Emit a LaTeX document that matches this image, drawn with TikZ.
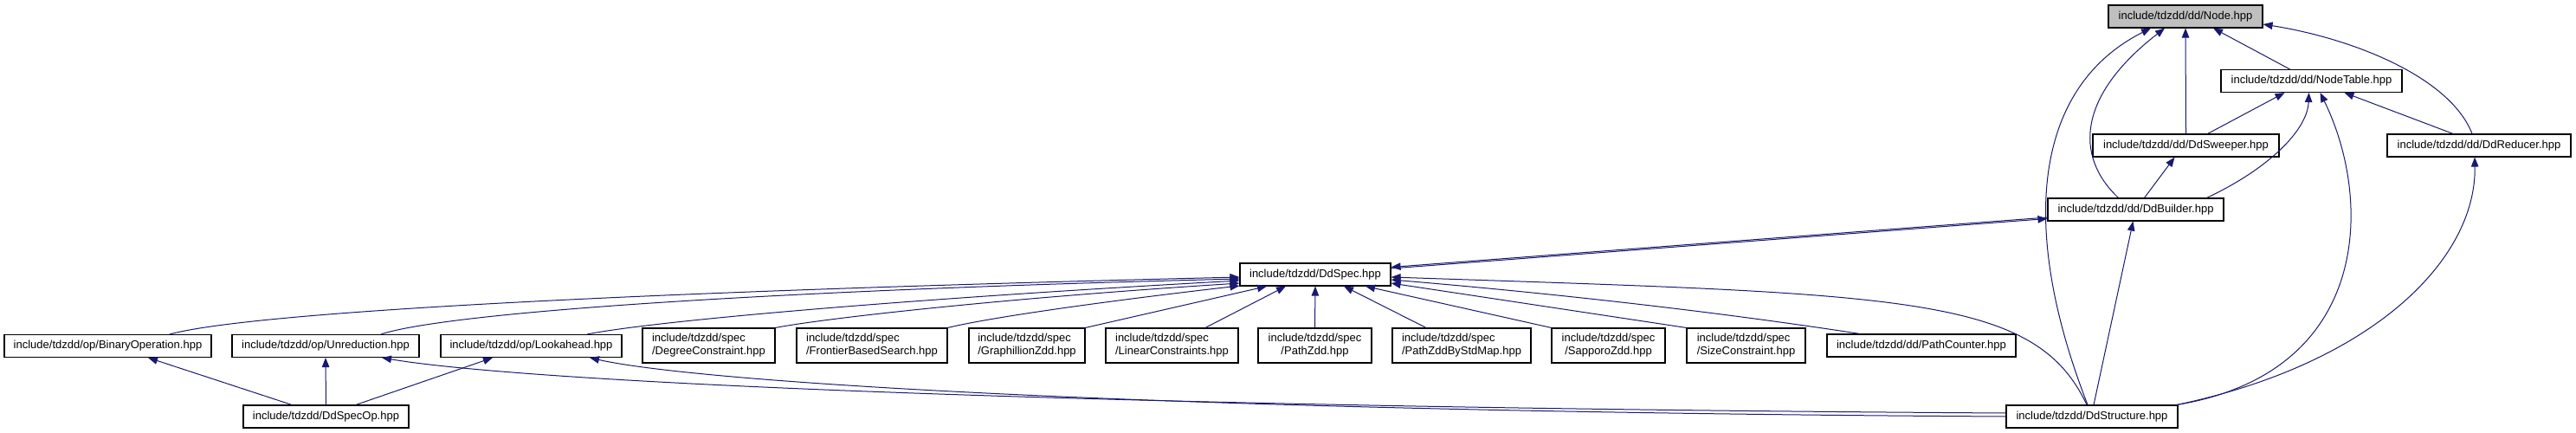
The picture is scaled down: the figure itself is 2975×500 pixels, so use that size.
\documentclass[tikz,border=0pt]{standalone}
\usepackage{fontspec}
\setmainfont{Liberation Sans}
\usepackage{tikz}
\usetikzlibrary{arrows.meta,positioning}
\definecolor{incblue}{RGB}{25,25,112}
\definecolor{focusgray}{RGB}{191,191,191}

\begin{document}
\begin{tikzpicture}[x=1pt,y=-1pt,
  every node/.style={font=\fontsize{13}{15}\selectfont},
  hbox/.style={draw=black,fill=white,line width=1.1pt,inner sep=0pt,minimum height=26pt},
  hbox2/.style={hbox,minimum height=40pt,align=left},
  inc/.style={draw=incblue,line width=1pt,-{Triangle[length=11pt,width=8.5pt]}}]
\useasboundingbox (0,0) rectangle (2975,500);
% top part
\node[hbox,fill=focusgray,minimum width=178pt] (node) at (2524,19) {include/tdzdd/dd/Node.hpp};
\node[hbox,minimum width=209pt] (ntab) at (2669.5,93.5) {include/tdzdd/dd/NodeTable.hpp};
\node[hbox,minimum width=215pt] (swp) at (2524.5,168) {include/tdzdd/dd/DdSweeper.hpp};
\node[hbox,minimum width=212pt] (red) at (2863,168) {include/tdzdd/dd/DdReducer.hpp};
\node[hbox,minimum width=203pt] (bld) at (2466.5,242) {include/tdzdd/dd/DdBuilder.hpp};
\node[hbox,minimum width=174pt] (spec) at (1519,317) {include/tdzdd/DdSpec.hpp};
% row of specs
\node[hbox,minimum width=239pt] (bin) at (124.5,399.5) {include/tdzdd/op/BinaryOperation.hpp};
\node[hbox,minimum width=216pt] (unr) at (376,399.5) {include/tdzdd/op/Unreduction.hpp};
\node[hbox,minimum width=209pt] (look) at (613.5,399.5) {include/tdzdd/op/Lookahead.hpp};
\node[hbox2,minimum width=153pt] (deg) at (818.5,399) {include/tdzdd/spec\\/DegreeConstraint.hpp};
\node[hbox2,minimum width=174pt] (front) at (1007,399) {include/tdzdd/spec\\/FrontierBasedSearch.hpp};
\node[hbox2,minimum width=134pt] (graph) at (1186,399) {include/tdzdd/spec\\/GraphillionZdd.hpp};
\node[hbox2,minimum width=153pt] (lin) at (1353.5,399) {include/tdzdd/spec\\/LinearConstraints.hpp};
\node[hbox2,align=center,minimum width=131pt] (pz) at (1518.5,399) {include/tdzdd/spec\\/PathZdd.hpp};
\node[hbox2,minimum width=160pt] (pzs) at (1688,399) {include/tdzdd/spec\\/PathZddByStdMap.hpp};
\node[hbox2,align=center,minimum width=131pt] (sap) at (1857.5,399) {include/tdzdd/spec\\/SapporoZdd.hpp};
\node[hbox2,minimum width=137pt] (size) at (2016.5,399) {include/tdzdd/spec\\/SizeConstraint.hpp};
\node[hbox,minimum width=218pt] (pc) at (2219,399) {include/tdzdd/dd/PathCounter.hpp};
% bottom
\node[hbox,minimum width=191pt] (op) at (376.5,481) {include/tdzdd/DdSpecOp.hpp};
\node[hbox,minimum width=198pt] (dst) at (2416,481) {include/tdzdd/DdStructure.hpp};

% edges into Node.hpp
\draw[inc] ([xshift=-5pt]dst.north) .. controls (2330,260) and (2350,100) .. ([xshift=-40pt]node.south);
\draw[inc] ([xshift=-20pt]bld.north) .. controls (2395,180) and (2400,110) .. ([xshift=-24pt]node.south);
\draw[inc] (swp.north) -- (node.south);
\draw[inc] ([xshift=-25pt]ntab.north) -- ([xshift=32pt]node.south);
\draw[inc] ([xshift=-8pt]red.north) .. controls (2830,90) and (2720,45) .. ([yshift=-9pt]node.east);
% edges into NodeTable.hpp
\draw[inc] ([xshift=25pt]swp.north) -- ([xshift=-31pt]ntab.south);
\draw[inc] ([xshift=82pt]bld.north) .. controls (2620,195) and (2665,150) .. ([xshift=-3pt]ntab.south);
\draw[inc] ([xshift=98pt]dst.north) .. controls (2740,430) and (2740,230) .. ([xshift=10pt]ntab.south);
\draw[inc] ([xshift=-30pt]red.north) -- ([xshift=38pt]ntab.south);
% middle
\draw[inc] ([xshift=10pt]bld.north) -- ([xshift=-13pt]swp.south);
\draw[inc] ([xshift=2pt]dst.north) -- ([xshift=-3pt]bld.south);
\draw[inc] ([xshift=98pt]dst.north) .. controls (2740,420) and (2860,300) .. ([xshift=-5pt]red.south);
\draw[inc] ([yshift=-9pt]bld.west) -- ([yshift=8.5pt]spec.east);
\draw[inc] ([yshift=7pt]spec.east) -- ([yshift=-10.5pt]bld.west);
% edges into DdSpec.hpp
\draw[inc] ([xshift=71.5pt]bin.north) .. controls (300,358) and (800,335) .. ([yshift=-3pt]spec.west);
\draw[inc] ([xshift=64pt]unr.north) .. controls (520,360) and (900,335) .. ([yshift=-5pt]spec.west);
\draw[inc] ([xshift=64.5pt]look.north) .. controls (760,370) and (1050,345) .. ([yshift=-7pt]spec.west);
\draw[inc] (deg.north east) .. controls (950,368) and (1150,345) .. ([yshift=-10pt]spec.west);
\draw[inc] (front.north east) .. controls (1150,365) and (1300,345) .. ([yshift=-13pt]spec.west);
\draw[inc] (graph.north east) -- ([xshift=-56pt]spec.south);
\draw[inc] ([xshift=38.5pt]lin.north) -- ([xshift=-34pt]spec.south);
\draw[inc] (pz.north) -- (spec.south);
\draw[inc] ([xshift=-41pt]pzs.north) -- ([xshift=33pt]spec.south);
\draw[inc] (sap.north west) -- ([xshift=58pt]spec.south);
\draw[inc] (size.north west) -- ([yshift=-10pt]spec.east);
\draw[inc] ([xshift=-71pt]pc.north) .. controls (1950,355) and (1750,335) .. ([yshift=-6pt]spec.east);
\draw[inc] ([xshift=-6pt]dst.north) .. controls (2350,340) and (2200,340) .. ([yshift=-3pt]spec.east);
% bottom edges
\draw[inc] ([xshift=-39.5pt]op.north) -- ([xshift=46.5pt]bin.south);
\draw[inc] (op.north) -- (unr.south);
\draw[inc] ([xshift=34.5pt]op.north) -- ([xshift=-44.5pt]look.south);
\draw[inc] ([yshift=4pt]dst.west) .. controls (1200,470) and (600,440) .. ([xshift=65pt]unr.south);
\draw[inc] (dst.west) .. controls (1300,475) and (800,440) .. ([xshift=67.5pt]look.south);
\end{tikzpicture}
\end{document}
